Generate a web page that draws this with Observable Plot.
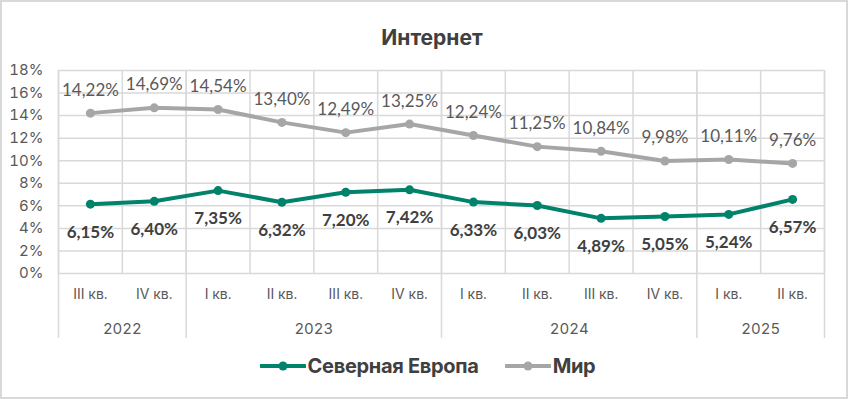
<!DOCTYPE html>
<html>
<head>
<meta charset="utf-8">
<script src="https://cdn.jsdelivr.net/npm/d3@7"></script>
<script src="https://cdn.jsdelivr.net/npm/@observablehq/plot@0.6"></script>
<style>
  html, body { margin: 0; padding: 0; background: #fff; }
  #frame { position: absolute; left: 0; top: 0; width: 848px; height: 399px; box-sizing: border-box; border: 2px solid #d9d9d9; background: #fff; }
  #title { position: absolute; left: 0; top: 25px; width: 864px; text-align: center; font: 700 21px Inter, sans-serif; color: #404040; }
  #chart { position: absolute; left: 0; top: 50px; }
  #legend { position: absolute; left: 0; top: 354px; width: 855px; display: flex; justify-content: center; align-items: center; font: 700 20px Inter, sans-serif; color: #404040; letter-spacing: -0.3px; }
  .item { display: flex; align-items: center; margin: 0 13px; }
  .item svg { margin-right: 2px; }
</style>
</head>
<body>
<div id="frame"></div>
<div id="title">Интернет</div>
<div id="chart"></div>
<div id="legend"></div>
<script>
const quarters = ["III кв.","IV кв.","I кв.","II кв.","III кв.","IV кв.","I кв.","II кв.","III кв.","IV кв.","I кв.","II кв."];
const years = ["2022","2023","2024","2025"];
const quartersPerYear = [2,4,4,2];
const northEurope = [6.15,6.40,7.35,6.32,7.20,7.42,6.33,6.03,4.89,5.05,5.24,6.57];
const world = [14.22,14.69,14.54,13.40,12.49,13.25,12.24,11.25,10.84,9.98,10.11,9.76];
const seriesNames = ["Северная Европа","Мир"];
const colors = ["#00826b","#a6a6a6"];
const yTicks = d3.range(0, 19, 2);

// derived
const bounds = [0];
quartersPerYear.forEach(n => bounds.push(bounds[bounds.length-1] + n));
const yearCenters = years.map((y, i) => (bounds[i] + bounds[i+1]) / 2);
const rows = [];
quarters.forEach((q, i) => {
  rows.push({s: seriesNames[0], x: i + 0.5, v: northEurope[i]});
  rows.push({s: seriesNames[1], x: i + 0.5, v: world[i]});
});
const fmt = v => v.toFixed(2).replace(".", ",") + "%";
const nRows = rows.filter(d => d.s === seriesNames[0]);
const wRows = rows.filter(d => d.s === seriesNames[1]);

const chart = Plot.plot({
  width: 848,
  height: 300,
  marginLeft: 58,
  marginRight: 24,
  marginTop: 20,
  marginBottom: 77,
  style: {fontFamily: "Inter, sans-serif", fontSize: "14px", color: "#595959", background: "transparent"},
  x: {domain: [0, quarters.length], axis: null},
  y: {domain: [0, 18], axis: null},
  marks: [
    Plot.ruleY(yTicks, {y: d => d, stroke: "#d9d9d9", strokeWidth: 1.5}),
    Plot.ruleX(d3.range(0, quarters.length + 1), {x: d => d, stroke: "#d9d9d9", strokeWidth: 1.5}),
    Plot.ruleX(bounds, {x: d => d, stroke: "#d9d9d9", strokeWidth: 1.5, insetBottom: -65}),
    Plot.axisY({ticks: yTicks, tickFormat: d => d + "%", tickSize: 0, tickPadding: 15, fontSize: 15, fill: "#595959", label: null}),
    Plot.axisX({ticks: quarters.map((q, i) => i + 0.5), tickFormat: (d) => quarters[Math.floor(d)], tickSize: 0, tickPadding: 16, fontSize: 14, fill: "#595959", label: null}),
    Plot.axisX({ticks: yearCenters, tickFormat: (d) => years[yearCenters.indexOf(d)], tickSize: 0, tickPadding: 50, fontSize: 15, fill: "#595959", label: null}),
    Plot.line(rows, {x: "x", y: "v", z: "s", stroke: d => d.s === seriesNames[0] ? colors[0] : colors[1], strokeWidth: 4}),
    Plot.dot(rows, {x: "x", y: "v", r: 4.5, fill: d => d.s === seriesNames[0] ? colors[0] : colors[1], stroke: null}),
    Plot.text(wRows, {x: "x", y: "v", text: d => fmt(d.v), dy: -23, fontSize: 17, fill: "#595959", fontFamily: "Lato, sans-serif"}),
    Plot.text(nRows, {x: "x", y: "v", text: d => fmt(d.v), dy: 28, fontSize: 17, fontWeight: "bold", fill: "#404040", fontFamily: "Lato, sans-serif"})
  ]
});
document.getElementById("chart").appendChild(chart);

const legend = document.getElementById("legend");
seriesNames.forEach((name, i) => {
  const item = document.createElement("div");
  item.className = "item";
  item.innerHTML = `<svg width="46" height="12"><line x1="1" y1="6" x2="45" y2="6" stroke="${colors[i]}" stroke-width="4" stroke-linecap="round"/><circle cx="23" cy="6" r="4.5" fill="${colors[i]}"/></svg><span>${name}</span>`;
  legend.appendChild(item);
});
</script>
</body>
</html>
